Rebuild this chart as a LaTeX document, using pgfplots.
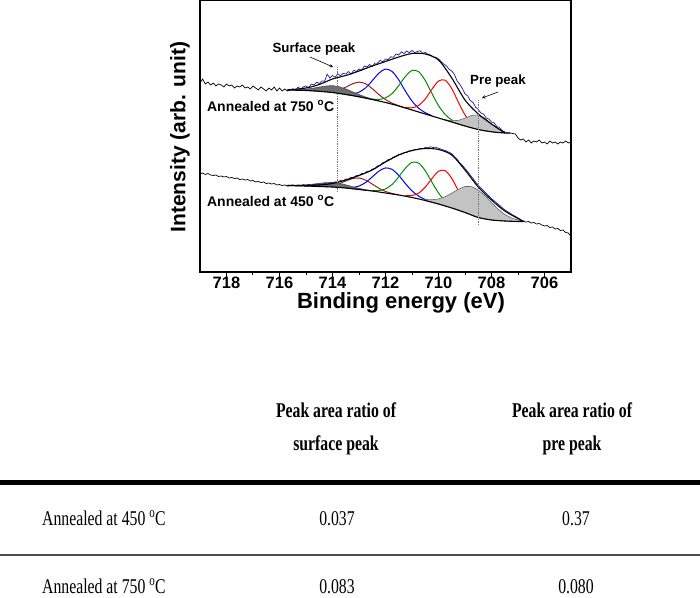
\documentclass[border=0pt]{standalone}
\usepackage{pgfplots}
\pgfplotsset{compat=1.18}
\usepackage{fontspec}
\setmainfont{Liberation Serif}
\setsansfont{Liberation Sans}
\usepackage{graphicx}
\definecolor{rawblue}{RGB}{30,30,160}
\definecolor{cbrown}{RGB}{160,30,30}
\definecolor{cgreen}{RGB}{0,140,0}
\definecolor{surfgray}{RGB}{110,110,110}
\definecolor{pregray}{RGB}{195,195,195}
\newcommand{\tb}[1]{\scalebox{0.75}[1]{#1}}
\begin{document}
\begin{tikzpicture}
\useasboundingbox (0pt,0pt) rectangle (700pt,597pt);
\begin{axis}[
  at={(200pt,325pt)}, anchor=south west,
  scale only axis, width=371pt, height=272pt,
  x dir=reverse, xmin=705, xmax=719,
  y dir=reverse, ymin=0, ymax=272,
  ytick=\empty,
  xtick={706,708,...,718}, minor x tick num=1,
  xtick pos=left, tick align=outside,
  major tick length=5pt, minor tick length=3pt,
  every tick/.style={black, line width=1pt},
  axis line style={line width=1.1pt},
  /pgf/number format/assume math mode=true,
  xticklabel style={font=\fontsize{16.5}{16.5}\selectfont\sffamily\bfseries, inner sep=0pt, yshift=0pt},
  clip=false,
]
% ---- components 750 ----
\addplot[cbrown, line width=1pt, smooth] coordinates {(714.25,91.51) (714.0,91.17) (713.75,89.96) (713.5,87.2) (713.25,83.91) (713.0,82.1) (712.75,83.81) (712.5,88.61) (712.25,94.56) (712.0,99.53) (711.75,103.18) (711.5,105.7) (711.25,107.94)};
\addplot[blue, line width=1pt, smooth] coordinates {(713.5,94.01) (713.25,93.98) (713.0,92.2) (712.75,87.85) (712.5,80.75) (712.25,73.23) (712.0,69.06) (711.75,71.49) (711.5,79.9) (711.25,91.09) (711.0,101.09) (710.75,108.18) (710.5,112.67) (710.25,115.62)};
\addplot[cgreen, line width=1pt, smooth] coordinates {(712.5,99.04) (712.25,99.4) (712.0,97.89) (711.75,93.5) (711.5,85.6) (711.25,76.53) (711.0,70.5) (710.75,71.67) (710.5,80.52) (710.25,93.38) (710.0,105.58) (709.75,114.45) (709.5,119.98) (709.25,123.4)};
\addplot[red, line width=1pt, smooth] coordinates {(711.25,107.4) (711.0,107.76) (710.75,105.42) (710.5,98.99) (710.25,89.32) (710.0,81.08) (709.75,80.2) (709.5,88.59) (709.25,102.16) (709.0,114.88) (708.75,123.34) (708.5,128.14)};
\addplot[draw=black!70, line width=0.6pt, fill=surfgray] coordinates {(715.5,89.9) (715.25,89.74) (715.0,89.2) (714.75,88.33) (714.5,87.05) (714.25,86.0) (714.0,85.6) (713.75,86.72) (713.5,88.9) (713.25,91.76) (713.0,94.53) (712.75,97.03) (712.5,99.04) (712.25,100.84) (712.25,101) (712.5,99.5) (712.75,98.15) (713.0,96.8) (713.25,95.65) (713.5,94.5) (713.75,93.5) (714.0,92.5) (714.25,91.9) (714.5,91.3) (714.75,90.9) (715.0,90.5) (715.25,90.3) (715.5,90.1)} --cycle;
\addplot[draw=black!60, line width=0.6pt, fill=pregray] coordinates {(709.75,119.7) (709.5,120.77) (709.25,120.38) (709.0,118.18) (708.75,115.32) (708.5,115) (708.25,118.22) (708.0,123.98) (707.75,128.78) (707.5,131.77) (707.5,133) (707.75,132.4) (708.0,131.8) (708.25,130.65) (708.5,129.5) (708.75,127.75) (709.0,126) (709.25,124) (709.5,122) (709.75,120)} --cycle;
% ---- components 450 ----
\addplot[cbrown, line width=1pt, smooth] coordinates {(714.5,186.37) (714.25,186.25) (714.0,185.44) (713.75,183.77) (713.5,181.03) (713.25,178.6) (713.0,178) (712.75,180.1) (712.5,184.03) (712.25,188.27) (712.0,191.44) (711.75,193.5) (711.5,194.87)};
\addplot[blue, line width=1pt, smooth] coordinates {(713.5,187.63) (713.25,187.5) (713.0,186.05) (712.75,182.52) (712.5,176.93) (712.25,171.17) (712.0,167.92) (711.75,169.43) (711.5,175.43) (711.25,183.57) (711.0,190.82) (710.75,196.13) (710.5,199.5) (710.25,201.97)};
\addplot[cgreen, line width=1pt, smooth] coordinates {(712.5,190.59) (712.25,190.57) (712.0,188.9) (711.75,184.43) (711.5,176.84) (711.25,168.23) (711.0,162.33) (710.75,163.1) (710.5,170.69) (710.25,182.12) (710.0,192.94) (709.75,201.06) (709.5,206.2) (709.25,209.72)};
\addplot[red, line width=1pt, smooth] coordinates {(711.25,195.72) (711.0,195.51) (710.75,193.16) (710.5,187.18) (710.25,178.57) (710.0,171.23) (709.75,170.68) (709.5,178.35) (709.25,190.86) (709.0,202.63) (708.75,211.08) (708.5,216.29)};
\addplot[draw=black!70, line width=0.6pt, fill=surfgray] coordinates {(715.5,185.4) (715.25,185.29) (715.0,184.88) (714.75,184.19) (714.5,183.32) (714.25,182.62) (714.0,182.5) (713.75,183.37) (713.5,184.82) (713.25,186.69) (713.0,188.38) (712.75,189.74) (712.5,190.8) (712.5,191) (712.75,190.25) (713.0,189.5) (713.25,188.75) (713.5,188) (713.75,187.5) (714.0,187) (714.25,186.75) (714.5,186.5) (714.75,186.25) (715.0,186) (715.25,185.8) (715.5,185.6)} --cycle;
\addplot[draw=black!60, line width=0.6pt, fill=pregray] coordinates {(710.5,199.45) (710.25,199.8) (710.0,198.92) (709.75,196.75) (709.5,193.17) (709.25,189.32) (709.0,186.5) (708.75,186.57) (708.5,190.14) (708.25,195.57) (708.0,202.71) (707.75,209.15) (707.5,214.44) (707.25,217.92) (707.0,220.01) (706.75,220.91) (706.75,221.5) (707.0,221.5) (707.25,221.25) (707.5,221) (707.75,220.5) (708.0,220) (708.25,218.75) (708.5,217.5) (708.75,215) (709.0,212.5) (709.25,210.25) (709.5,208) (709.75,206) (710.0,204) (710.25,202.25) (710.5,200.5)} --cycle;
% ---- backgrounds ----
\addplot[black, line width=1.1pt, smooth] coordinates {(715.7,90) (715.0,90.5) (714.5,91.3) (714.0,92.5) (713.5,94.5) (713.0,96.8) (712.5,99.5) (712.0,102.5) (711.5,106) (711.0,110) (710.5,114) (710.0,118) (709.5,122) (709.0,126) (708.5,129.5) (708.0,131.8) (707.5,133) (707.3,133)};
\addplot[black, line width=1.1pt, smooth] coordinates {(715.7,185.5) (715.0,186) (714.5,186.5) (714.0,187) (713.5,188) (713.0,189.5) (712.5,191) (712.0,193) (711.5,195) (711.0,197.5) (710.5,200.5) (710.0,204) (709.5,208) (709.0,212.5) (708.5,217.5) (708.0,220) (707.5,221) (707.0,221.5) (706.8,221.5)};
% ---- raw data 750 ----
\addplot[black, line width=0.7pt] table {
719.0 83
718.9 79
718.8 84
718.7 82
718.6 85
718.5 83
718.4 86
718.3 84
718.2 85
718.1 87
718.0 84
717.9 86
717.8 85
717.7 88
717.6 86
717.5 87
717.4 85
717.3 88
717.2 87
717.1 89
717.0 86
716.9 88
716.8 90
716.7 87
716.6 89
716.5 91
716.4 88
716.3 90
716.2 87
716.1 91
716.0 88
715.9 91
715.8 89
715.7 91
715.6 90
};
\addplot[rawblue, line width=0.7pt] table {
715.6 90
715.5 88.7
715.4 90.4
715.3 87.1
715.2 89.1
715.1 86.8
715.0 86
714.9 87.8
714.8 84.1
714.7 84.9
714.6 82.2
714.5 83.5
714.4 80.9
714.3 81.3
714.2 74.2
714.1 78.1
714.0 75.5
713.9 77.3
713.8 73.6
713.7 75.9
713.6 73.2
713.5 74
713.4 71.6
713.3 74.2
713.2 70.3
713.1 71.4
713.0 69
712.9 70.5
712.8 66
712.7 67
712.6 64.5
712.5 66.5
712.4 63.1
712.3 63.2
712.2 60.3
712.1 61.9
712.0 59
711.9 59.6
711.8 56.7
711.7 57.3
711.6 53.9
711.5 55
711.4 51.8
711.3 53.6
711.2 50.9
711.1 52.7
711.0 50.5
710.9 52.5
710.8 51.6
710.7 50.7
710.6 53.3
710.5 52.5
710.4 54.2
710.3 54.9
710.2 57.1
710.1 57.3
710.0 59
709.9 61.6
709.8 64.2
709.7 65.8
709.6 69.4
709.5 71
709.4 74.4
709.3 80.8
709.2 84.2
709.1 88.6
709.0 94
708.9 95.8
708.8 100.6
708.7 102.4
708.6 107.2
708.5 109.5
708.4 113
708.3 114
708.2 118
708.1 119
708.0 122
707.9 122.8
707.8 126.6
707.7 127.4
707.6 130.7
707.5 132
707.4 133
};
\addplot[black, line width=0.7pt] table {
707.4 133
707.3 133
707.2 133.5
707.1 134
707.0 138
706.9 140
706.8 139
706.7 142
706.6 140
706.5 143
706.4 141
706.3 142
706.2 140
706.1 143
706.0 142
705.9 144
705.8 141
705.7 143
705.6 142
705.5 144
705.4 142
705.3 143
705.2 141
705.1 143
705.0 142
};
% ---- raw data 450 ----
\addplot[black, line width=0.7pt] table {
719.0 174
718.9 173
718.8 174.5
718.7 173.5
718.6 175
718.5 175.5
718.4 175
718.3 176.5
718.2 176
718.1 177
718.0 176.5
717.9 178
717.8 177.5
717.7 178.5
717.6 178
717.5 179.5
717.4 179
717.3 180
717.2 179.5
717.1 181
717.0 180.5
716.9 182
716.8 181.5
716.7 182.5
716.6 182
716.5 183.5
716.4 183
716.3 184
716.2 183.5
716.1 185
716.0 184.5
715.9 185.5
715.8 185
715.7 186
715.6 185.5
};
\addplot[rawblue, line width=0.7pt] table {
715.6 185.5
715.5 184.8
715.4 186
715.3 184.9
715.2 185.8
715.1 184.6
715.0 185.6
714.9 184.5
714.8 185.5
714.7 184.3
714.6 185.2
714.5 184
714.4 184.9
714.3 183.5
714.2 184.3
714.1 182.7
714.0 183.2
713.9 181.8
713.8 182.4
713.7 180.5
713.6 180.9
713.5 179
713.4 179.4
713.3 177.3
713.2 177.6
713.1 175.5
713.0 175.8
712.9 173.5
712.8 173.6
712.7 171.2
712.6 171.3
712.5 169
712.4 168.6
712.3 165.8
712.2 165.4
712.1 162.5
712.0 161.9
711.9 159.5
711.8 159.3
711.7 157
711.6 156.6
711.5 154.2
711.4 154.3
711.3 152.5
711.2 152.6
711.1 150.8
711.0 150.9
710.9 149.5
710.8 149.9
710.7 148.5
710.6 148.8
710.5 147.5
710.4 147.9
710.3 146.8
710.2 147.5
710.1 147.2
710.0 148.3
709.9 149.1
709.8 150.2
709.7 150.9
709.6 152.4
709.5 153.5
709.4 156.7
709.3 159.2
709.2 162.8
709.1 165.1
709.0 168.6
708.9 171.5
708.8 175.2
708.7 178.4
708.6 182.1
708.5 185.2
708.4 188.1
708.3 190.6
708.2 193.4
708.1 195.8
708.0 198.6
707.9 200.8
707.8 203.1
707.7 205.2
707.6 207.6
707.5 209.8
707.4 211.6
707.3 213.1
707.2 214.9
707.1 216.3
707.0 218
706.9 219.5
706.8 221.5
};
\addplot[black, line width=0.7pt] table {
706.8 221.5
706.7 222
706.6 221.5
706.5 223
706.4 222.5
706.3 224
706.2 223.5
706.1 225
706.0 226
705.9 225.5
705.8 227.5
705.7 227
705.6 229
705.5 228.5
705.4 230.5
705.3 230
705.2 232.5
705.1 233
705.0 236.5
};
% ---- envelopes ----
\addplot[black, line width=1.1pt, smooth] coordinates {(715.7,90) (715.0,88) (714.5,84.5) (714.0,79) (713.5,75.5) (713.0,71) (712.5,66) (712.0,61.5) (711.5,57) (711.0,53.5) (710.5,54) (710.0,60) (709.5,78) (709.0,100) (708.5,114) (708.0,124) (707.5,133)};
\addplot[black, line width=1.1pt, smooth] coordinates {(715.7,185.5) (715.0,185.5) (714.5,185) (714.0,183.5) (713.5,180) (713.0,175.5) (712.5,170) (712.0,162) (711.5,155) (711.0,150.5) (710.5,148.5) (710.0,149.5) (709.5,155) (709.0,170) (708.5,187) (708.0,200) (707.5,211) (707.0,218.5) (706.8,221.5)};
% ---- dotted markers ----
\addplot[black!55, densely dotted, line width=0.8pt] coordinates {(713.82,67) (713.82,192)};
\addplot[black!55, densely dotted, line width=0.8pt] coordinates {(708.5,100) (708.5,225)};
% ---- annotations ----
\draw[-stealth, line width=0.6pt] (axis cs:714.85,57) -- (axis cs:713.98,67);
\draw[-stealth, line width=0.6pt] (axis cs:707.75,92) -- (axis cs:708.36,98);
\node[font=\fontsize{13.3}{14}\selectfont\sffamily\bfseries, inner sep=0] at (axis cs:714.7,49) {Surface peak};
\node[font=\fontsize{13.3}{14}\selectfont\sffamily\bfseries, inner sep=0, anchor=west] at (axis cs:708.81,81) {Pre peak};
\node[font=\fontsize{14}{15}\selectfont\sffamily\bfseries, inner sep=0, anchor=west] at (axis cs:718.74,106) {Annealed at 750 \textsuperscript{o}C};
\node[font=\fontsize{14}{15}\selectfont\sffamily\bfseries, inner sep=0, anchor=west] at (axis cs:718.74,201) {Annealed at 450 \textsuperscript{o}C};
\end{axis}
% axis titles
\node[font=\fontsize{22}{22}\selectfont\sffamily\bfseries, inner sep=0, anchor=north] at (401pt,305pt) {Binding energy (eV)};
\node[font=\fontsize{21}{21}\selectfont\sffamily\bfseries, inner sep=0, rotate=90] at (180pt,460pt) {Intensity (arb. unit)};
% table
\begin{scope}[every node/.style={inner sep=0, anchor=base}]
\node[font=\fontsize{21}{21}\selectfont\bfseries] at (336pt,180pt) {\tb{Peak area ratio of}};
\node[font=\fontsize{21}{21}\selectfont\bfseries] at (336pt,147pt) {\tb{surface peak}};
\node[font=\fontsize{21}{21}\selectfont\bfseries] at (572pt,180pt) {\tb{Peak area ratio of}};
\node[font=\fontsize{21}{21}\selectfont\bfseries] at (572pt,147pt) {\tb{pre peak}};
\node[font=\fontsize{21}{21}\selectfont, anchor=base west] at (42pt,72pt) {\tb{Annealed at 450 \textsuperscript{o}C}};
\node[font=\fontsize{21}{21}\selectfont] at (337pt,72pt) {\tb{0.037}};
\node[font=\fontsize{21}{21}\selectfont] at (576pt,72pt) {\tb{0.37}};
\node[font=\fontsize{21}{21}\selectfont, anchor=base west] at (42pt,4pt) {\tb{Annealed at 750 \textsuperscript{o}C}};
\node[font=\fontsize{21}{21}\selectfont] at (337pt,4pt) {\tb{0.083}};
\node[font=\fontsize{21}{21}\selectfont] at (576pt,4pt) {\tb{0.080}};
\end{scope}
\draw[line width=5pt] (0pt,115pt) -- (700pt,115pt);
\draw[line width=1.5pt, black!70] (0pt,42pt) -- (700pt,42pt);
\end{tikzpicture}
\end{document}
